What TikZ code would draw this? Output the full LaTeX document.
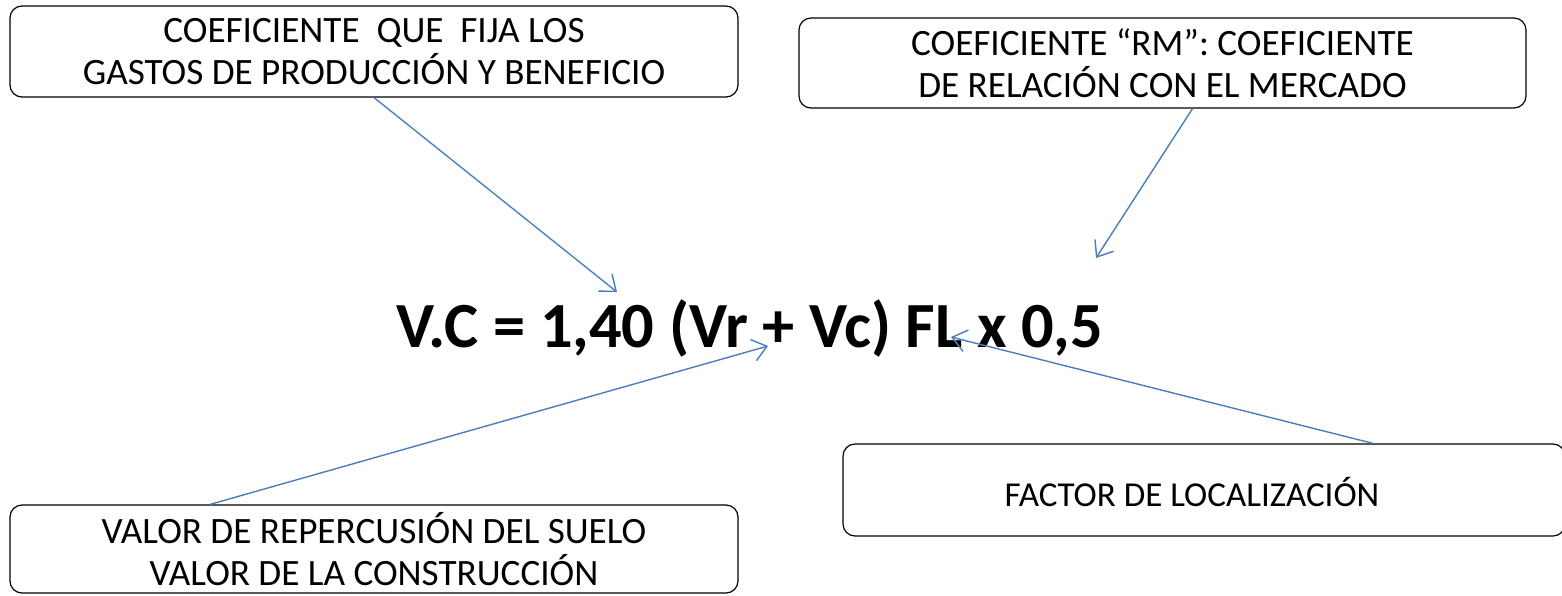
\documentclass[tikz,border=0pt]{standalone}
\usepackage{fontspec}
\setmainfont{Carlito}
\usetikzlibrary{arrows.meta,calc}
\definecolor{arrowblue}{HTML}{4A7EBB}
\tikzset{
  box/.style={draw=black, line width=0.6pt, rounded corners=6pt, align=center, inner sep=0pt, font=\fontsize{18.6}{21}\selectfont},
  conn/.style={draw=arrowblue, line width=0.7pt, -{Straight Barb[length=7pt,width=11pt]}},
  formula/.style={font=\fontsize{32.2}{38}\selectfont\bfseries, inner sep=0pt}
}
\begin{document}
\begin{tikzpicture}[x=0.5pt,y=-0.5pt]
\useasboundingbox (0,0) rectangle (1562,595);
\node[box, minimum width=364pt, minimum height=45.5pt] (b1) at (374,51.5) {COEFICIENTE\ \ QUE\ \ FIJA LOS\\GASTOS DE PRODUCCIÓN Y BENEFICIO};
\node[box, minimum width=363.5pt, minimum height=45pt] (b2) at (1162.5,63) {COEFICIENTE “RM”: COEFICIENTE\\DE RELACIÓN CON EL MERCADO};
\node[box, minimum width=364pt, minimum height=44pt] (b3) at (374,549) {VALOR DE REPERCUSIÓN DEL SUELO\\VALOR DE LA CONSTRUCCIÓN};
\node[box, minimum width=361pt, minimum height=46pt] (b4) at (1204,490) {};
\node[font=\fontsize{17.5}{21}\selectfont, inner sep=0pt] (t4) at (1192,492) {FACTOR DE LOCALIZACIÓN};
\node[formula] (f) at (750,328) {V.C = 1,40 (Vr + Vc) FL x 0,5};
\coordinate (e1) at (617,292);
\coordinate (e2) at (1096,258);
\coordinate (e3) at (768,346);
\coordinate (e4) at (951,337);
\draw[conn] (b1.south) -- (e1);
\draw[conn] ($(b2.south)+(30,0)$) -- (e2);
\draw[conn] ($(b3.north)+(-164,0)$) -- (e3);
\draw[conn] ($(b4.north)+(169,0)$) -- (e4);
\end{tikzpicture}
\end{document}
